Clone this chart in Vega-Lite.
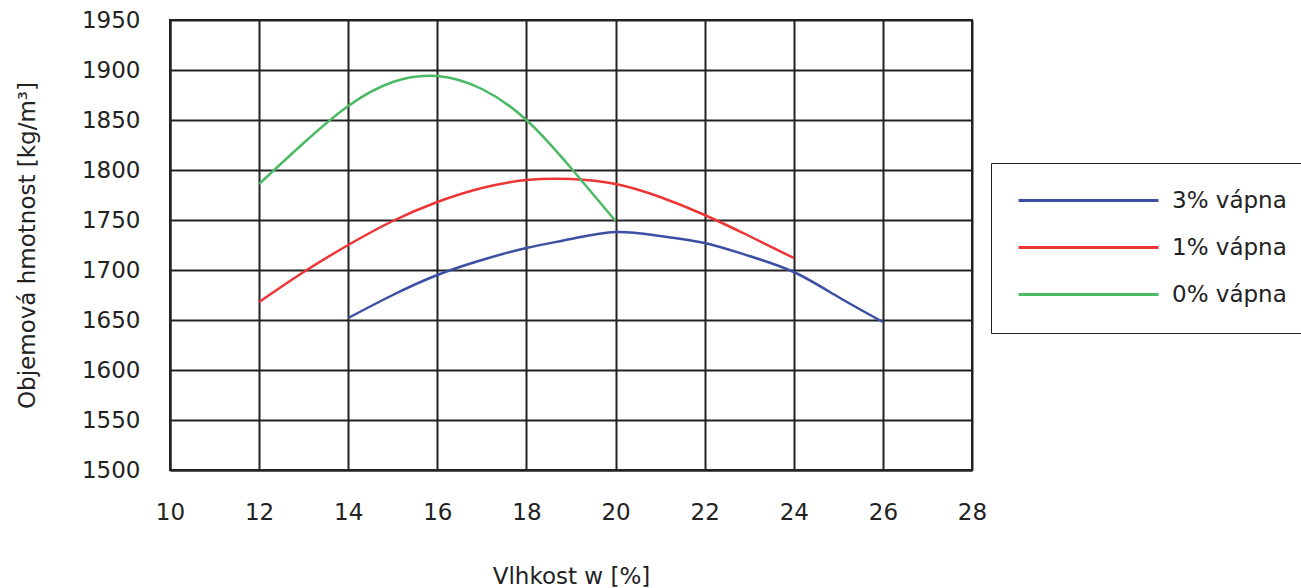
{
  "$schema": "https://vega.github.io/schema/vega-lite/v6.json",
  "autosize": "none",
  "padding": {"left": 170, "top": 20, "right": 329, "bottom": 118},
  "width": 802,
  "height": 450,
  "background": "white",
  "data": {"values": [
    {"w": 14, "rho": 1652, "s": "3% vápna"},
    {"w": 15, "rho": 1675, "s": "3% vápna"},
    {"w": 16, "rho": 1695, "s": "3% vápna"},
    {"w": 17, "rho": 1710, "s": "3% vápna"},
    {"w": 18, "rho": 1722, "s": "3% vápna"},
    {"w": 19, "rho": 1731, "s": "3% vápna"},
    {"w": 20, "rho": 1738, "s": "3% vápna"},
    {"w": 21, "rho": 1734, "s": "3% vápna"},
    {"w": 22, "rho": 1727, "s": "3% vápna"},
    {"w": 23, "rho": 1714, "s": "3% vápna"},
    {"w": 24, "rho": 1698, "s": "3% vápna"},
    {"w": 25, "rho": 1673, "s": "3% vápna"},
    {"w": 26, "rho": 1648, "s": "3% vápna"},
    {"w": 12, "rho": 1668, "s": "1% vápna"},
    {"w": 13, "rho": 1698, "s": "1% vápna"},
    {"w": 14, "rho": 1725, "s": "1% vápna"},
    {"w": 15, "rho": 1749, "s": "1% vápna"},
    {"w": 16, "rho": 1768, "s": "1% vápna"},
    {"w": 17, "rho": 1782, "s": "1% vápna"},
    {"w": 18, "rho": 1790, "s": "1% vápna"},
    {"w": 19, "rho": 1791, "s": "1% vápna"},
    {"w": 20, "rho": 1786, "s": "1% vápna"},
    {"w": 21, "rho": 1773, "s": "1% vápna"},
    {"w": 22, "rho": 1755, "s": "1% vápna"},
    {"w": 23, "rho": 1734, "s": "1% vápna"},
    {"w": 24, "rho": 1712, "s": "1% vápna"},
    {"w": 12, "rho": 1786, "s": "0% vápna"},
    {"w": 13, "rho": 1827, "s": "0% vápna"},
    {"w": 14, "rho": 1864, "s": "0% vápna"},
    {"w": 15, "rho": 1888, "s": "0% vápna"},
    {"w": 16, "rho": 1894, "s": "0% vápna"},
    {"w": 17, "rho": 1881, "s": "0% vápna"},
    {"w": 18, "rho": 1850, "s": "0% vápna"},
    {"w": 19, "rho": 1802, "s": "0% vápna"},
    {"w": 20, "rho": 1749, "s": "0% vápna"}
  ]},
  "mark": {"type": "line", "interpolate": "natural", "strokeWidth": 2.5},
  "encoding": {
    "x": {
      "field": "w", "type": "quantitative",
      "scale": {"domain": [10, 28], "nice": false, "zero": false},
      "axis": {"values": [10, 12, 14, 16, 18, 20, 22, 24, 26, 28], "format": "d", "labelFlush": false, "title": "Vlhkost w [%]", "labelPadding": 31, "titlePadding": 41}
    },
    "y": {
      "field": "rho", "type": "quantitative",
      "scale": {"domain": [1500, 1950], "nice": false, "zero": false},
      "axis": {"values": [1500, 1550, 1600, 1650, 1700, 1750, 1800, 1850, 1900, 1950], "format": "d", "title": "Objemová hmotnost [kg/m³]", "labelPadding": 30, "titlePadding": 42}
    },
    "color": {
      "field": "s", "type": "nominal",
      "scale": {"domain": ["3% vápna", "1% vápna", "0% vápna"], "range": ["#3b4fa3", "#ee3535", "#4cb964"]},
      "legend": {
        "title": null, "orient": "none", "legendX": 821, "legendY": 143,
        "symbolType": "M-1,0H13", "symbolSize": 400, "symbolStrokeWidth": 3,
        "labelFontSize": 23, "labelFont": "DejaVu Sans", "labelColor": "#222",
        "strokeColor": "#222", "padding": 26, "labelOffset": 132, "rowPadding": 23
      }
    }
  },
  "config": {
    "view": {"stroke": "#222", "strokeWidth": 2},
    "axis": {
      "grid": true, "gridColor": "#222", "gridWidth": 2, "gridOpacity": 1,
      "domainColor": "#222", "domainWidth": 2, "ticks": false,
      "labelFont": "DejaVu Sans", "labelFontSize": 23, "labelColor": "#222",
      "titleFont": "DejaVu Sans", "titleFontSize": 23, "titleFontWeight": "normal", "titleColor": "#222"
    }
  }
}
